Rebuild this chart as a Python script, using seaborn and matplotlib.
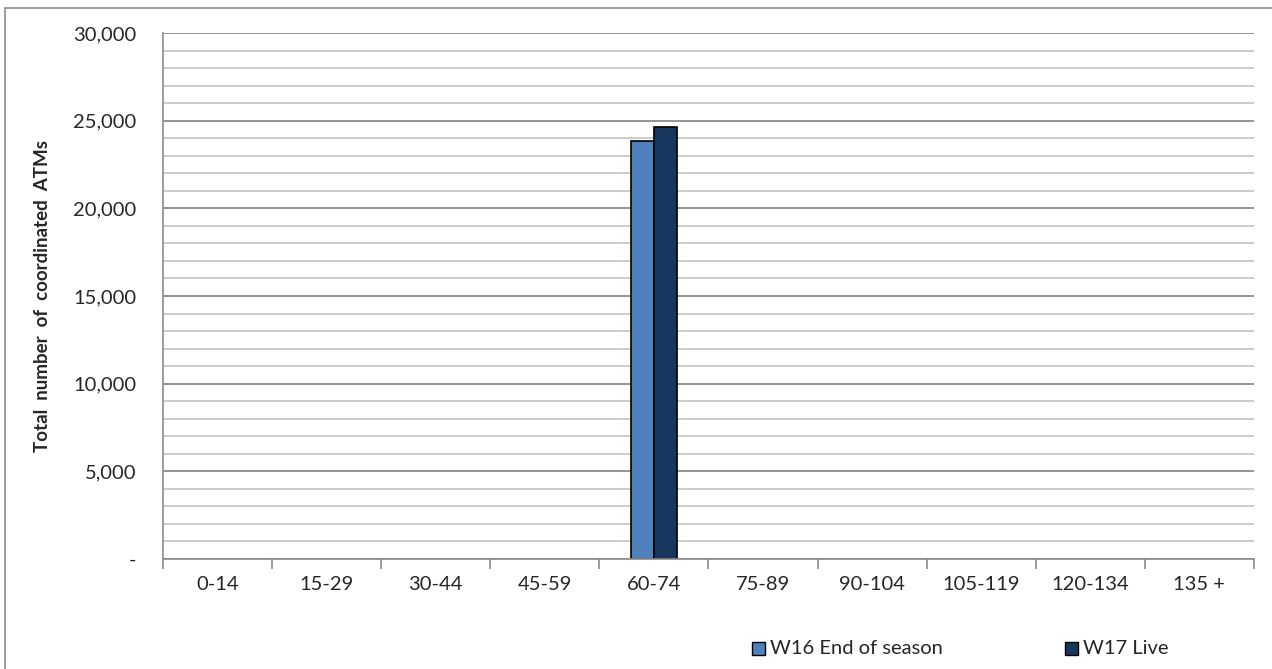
import numpy as np
import pandas as pd
import matplotlib.pyplot as plt
import seaborn as sns
from matplotlib.ticker import MultipleLocator, FuncFormatter
from matplotlib.patches import Rectangle

categories = ["0-14", "15-29", "30-44", "45-59", "60-74", "75-89",
              "90-104", "105-119", "120-134", "135 +"]
w16_end = [0, 0, 0, 0, 23850, 0, 0, 0, 0, 0]
w17_live = [0, 0, 0, 0, 24650, 0, 0, 0, 0, 0]
series_names = ["W16 End of season", "W17 Live"]
colors = ["#4F81BD", "#17375E"]

df = pd.DataFrame({
    "band": categories * 2,
    "value": w16_end + w17_live,
    "series": [series_names[0]] * len(categories) + [series_names[1]] * len(categories),
})

sns.set_style("white")
plt.rcParams["font.family"] = ["Lato", "DejaVu Sans"]

fig = plt.figure(figsize=(12.72, 6.69), dpi=100)
ax = fig.add_axes([0.1281, 0.1644, 0.8577, 0.7863])

sns.barplot(data=df, x="band", y="value", hue="series", palette=colors,
            saturation=1, width=0.42, edgecolor="black", linewidth=1.2, gap=0,
            ax=ax, legend=False)

# zero-height bars are not drawn in the original
for p in ax.patches:
    if p.get_height() == 0:
        p.set_visible(False)

ax.set_ylim(0, 30000)
ax.set_xlim(-0.5, len(categories) - 0.5)
ax.yaxis.set_major_locator(MultipleLocator(5000))
ax.yaxis.set_minor_locator(MultipleLocator(1000))
ax.yaxis.set_major_formatter(FuncFormatter(lambda v, p: "-" if v == 0 else f"{v:,.0f}"))
ax.grid(which="major", axis="y", color="#8c8c8c", linewidth=1.3)
ax.grid(which="minor", axis="y", color="#c4c4c4", linewidth=1.2)
ax.set_axisbelow(True)

ax.set_xticks(np.arange(len(categories) + 1) - 0.5, minor=True)
ax.set_xticks(np.arange(len(categories)))
ax.set_xticklabels(categories)
ax.tick_params(axis="x", which="major", length=0, pad=12, labelsize=14.5)
ax.tick_params(axis="x", which="minor", length=7, color="#8c8c8c", width=1.2, direction="out")
ax.tick_params(axis="y", which="major", length=6, color="#8c8c8c", width=1.2,
               direction="out", labelsize=14.5, pad=13)
ax.tick_params(axis="y", which="minor", length=0)
ax.xaxis.set_tick_params(bottom=True, which="minor")

for side in ["top", "right"]:
    ax.spines[side].set_visible(False)
for side in ["left", "bottom"]:
    ax.spines[side].set_color("#8c8c8c")
    ax.spines[side].set_linewidth(1.2)

ax.set_xlabel("")
ax.set_ylabel("Total  number  of  coordinated  ATMs", fontsize=13.5, fontweight="bold",
              labelpad=16)

# legend
for name, col, lx in zip(series_names, colors, [0.591, 0.837]):
    fig.patches.append(Rectangle((lx, 0.021), 0.0102, 0.0195, transform=fig.transFigure,
                                 facecolor=col, edgecolor="black", linewidth=1))
    fig.text(lx + 0.0145, 0.031, name, fontsize=14.5, va="center", ha="left")

# chart border
fig.patches.append(Rectangle((0.004, -0.01), 1.0, 0.998, transform=fig.transFigure,
                             facecolor="none", edgecolor="#8c8c8c", linewidth=1.2))

fig.savefig("out.png", dpi=100)
